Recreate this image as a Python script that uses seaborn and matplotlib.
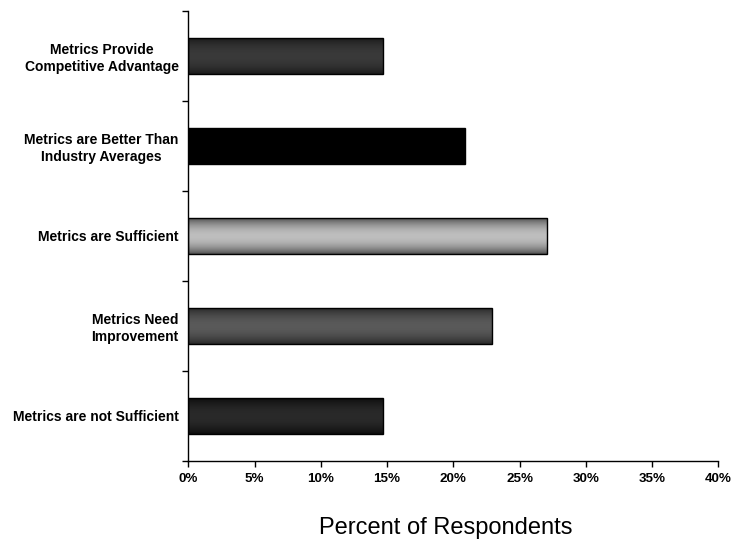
import numpy as np
import pandas as pd
import matplotlib
matplotlib.use("Agg")
import matplotlib.pyplot as plt
import seaborn as sns
from matplotlib.ticker import FixedLocator, FuncFormatter

sns.set_theme(style="white")
plt.rcParams["font.family"] = ["Liberation Sans", "DejaVu Sans"]
plt.rcParams["text.color"] = "black"
plt.rcParams["xtick.color"] = "black"
plt.rcParams["ytick.color"] = "black"
plt.rcParams["axes.labelcolor"] = "black"

categories = [
    "Metrics Provide\nCompetitive Advantage",
    "Metrics are Better Than\nIndustry Averages",
    "Metrics are Sufficient",
    "Metrics Need\nImprovement",
    "Metrics are not Sufficient",
]
percent = [14.7, 20.9, 27.1, 22.9, 14.7]
x_ticks = [0, 5, 10, 15, 20, 25, 30, 35, 40]

# (edge shade, centre shade) of the cylinder-like shading on each bar
shades = [
    ("#1a1a1a", "#3a3a3a"),
    ("#000000", "#000000"),
    ("#4e4e4e", "#bebebe"),
    ("#282828", "#5a5a5a"),
    ("#0c0c0c", "#2a2a2a"),
]

df = pd.DataFrame({"category": categories, "percent": percent})

fig = plt.figure(figsize=(7.34, 5.44), dpi=100)
ax = fig.add_axes([0.2566, 0.1526, 0.722, 0.8272])

sns.barplot(data=df, x="percent", y="category", orient="h", width=0.4,
            color="black", ax=ax)

ax.set_xlim(0, 40)
ax.set_ylim(4.5, -0.5)

# shaded fill for each bar, clipped to the bar outline
for patch, (edge, centre) in zip(ax.patches, shades):
    x0, y0 = patch.get_x(), patch.get_y()
    w, h = patch.get_width(), patch.get_height()
    e = np.array(matplotlib.colors.to_rgb(edge))
    c = np.array(matplotlib.colors.to_rgb(centre))
    t = np.linspace(-1, 1, 64)
    weight = np.clip(np.cos(t * np.pi / 2) ** 0.8, 0, 1)
    col = e[None, :] + (c - e)[None, :] * weight[:, None]
    img = np.repeat(col[:, None, :], 2, axis=1)
    im = ax.imshow(img, extent=(x0, x0 + w, y0 + h, y0), aspect="auto",
                   interpolation="bilinear", zorder=patch.get_zorder())
    im.set_clip_path(patch)
    patch.set_facecolor("none")
    patch.set_edgecolor("black")
    patch.set_linewidth(1.0)
    patch.set_zorder(patch.get_zorder() + 0.1)

ax.set_xlim(0, 40)
ax.set_ylim(4.5, -0.5)

for side in ("top", "right"):
    ax.spines[side].set_visible(False)
for side in ("left", "bottom"):
    ax.spines[side].set_color("black")
    ax.spines[side].set_linewidth(1.0)

ax.xaxis.set_major_locator(FixedLocator(x_ticks))
ax.xaxis.set_major_formatter(FuncFormatter(lambda v, p: f"{int(v)}%"))
ax.tick_params(axis="x", which="major", bottom=True, direction="out",
               length=4, width=1, color="black", pad=5, labelsize=9.6,
               labelcolor="black")
for lbl in ax.get_xticklabels():
    lbl.set_fontweight("bold")

ax.yaxis.set_minor_locator(FixedLocator([-0.5, 0.5, 1.5, 2.5, 3.5, 4.5]))
ax.tick_params(axis="y", which="minor", left=True, direction="out",
               length=4, width=1, color="black")
ax.tick_params(axis="y", which="major", left=False, length=0, pad=7,
               labelsize=10, labelcolor="black")
for lbl in ax.get_yticklabels():
    lbl.set_fontweight("bold")
    lbl.set_multialignment("center")
    lbl.set_linespacing(1.25)

ax.set_ylabel("")
ax.set_xlabel("Percent of Respondents", fontsize=17, color="black")
ax.xaxis.label.set_verticalalignment("center")
ax.xaxis.set_label_coords(0.485, -0.149)
ax.grid(False)

fig.savefig("out.png", dpi=100)
